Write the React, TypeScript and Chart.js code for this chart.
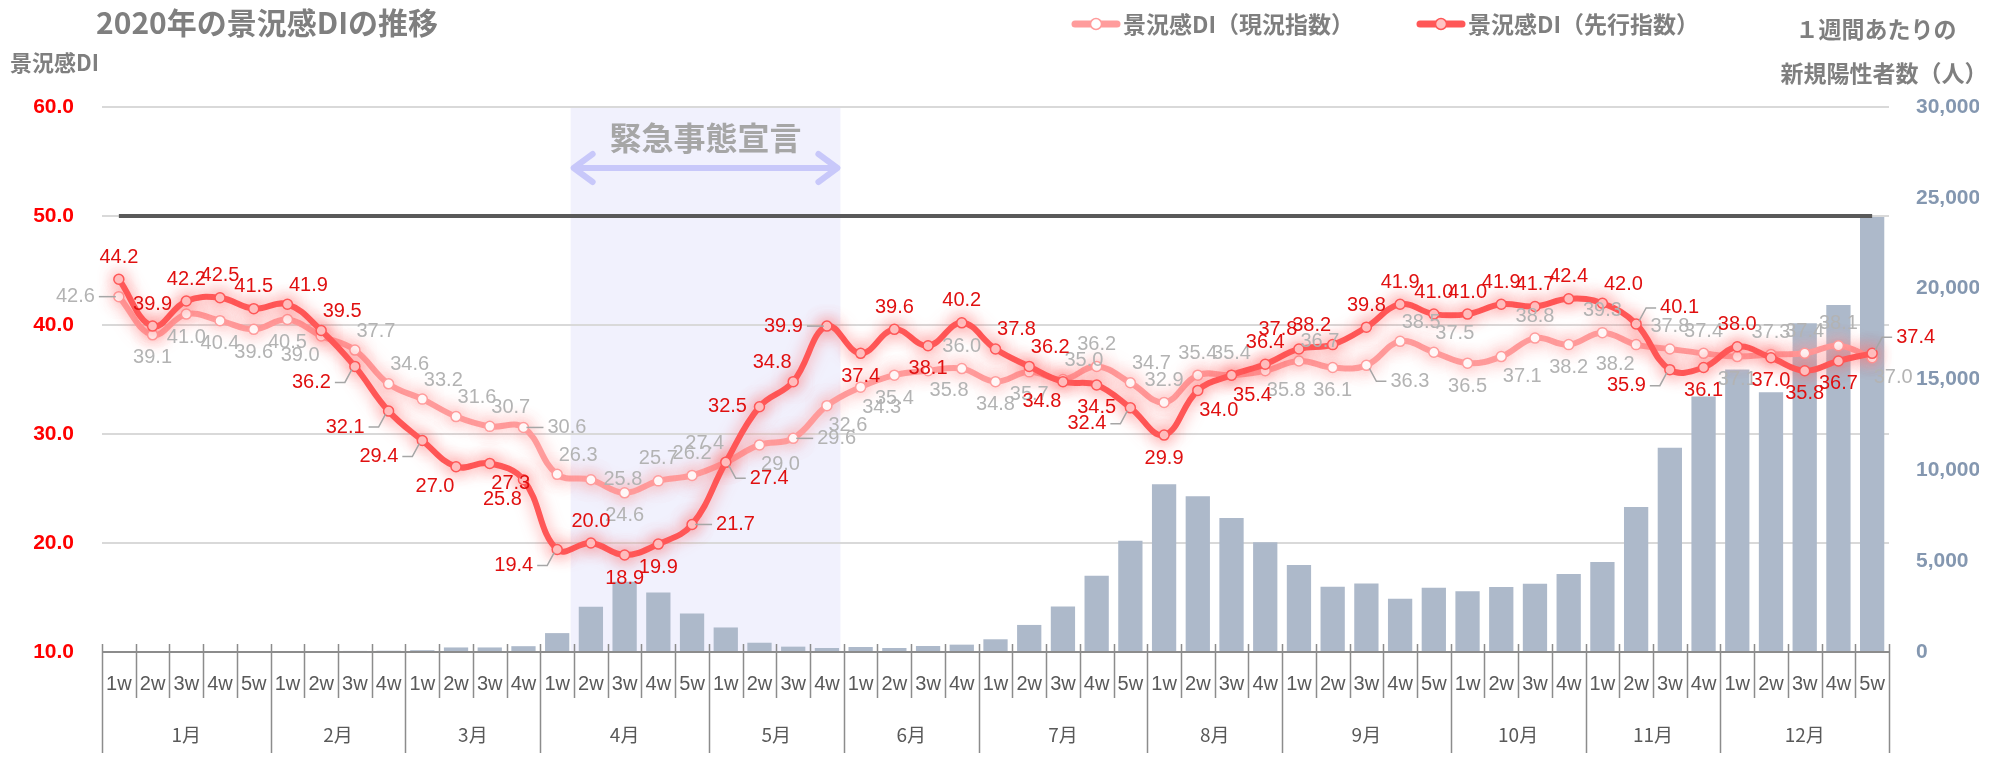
import React, { useEffect, useRef } from 'react';
import { Chart, registerables } from 'chart.js';

Chart.register(...registerables);

// ---- data -------------------------------------------------------------
const MONTHS = ['1月', '2月', '3月', '4月', '5月', '6月', '7月', '8月', '9月', '10月', '11月', '12月'];
const WEEKS_PER_MONTH = [5, 4, 4, 5, 4, 4, 5, 4, 5, 4, 4, 5];

// 景況感DI（現況指数）
const CURRENT_DI = [
  42.6, 39.1, 41.0, 40.4, 39.6,
  40.5, 39.0, 37.7, 34.6,
  33.2, 31.6, 30.7, 30.6,
  26.3, 25.8, 24.6, 25.7, 26.2,
  27.4, 29.0, 29.6, 32.6,
  34.3, 35.4, 35.8, 36.0,
  34.8, 35.7, 35.0, 36.2, 34.7,
  32.9, 35.4, 35.4, 35.8,
  36.7, 36.1, 36.3, 38.5, 37.5,
  36.5, 37.1, 38.8, 38.2,
  39.3, 38.2, 37.8, 37.4,
  37.1, 37.3, 37.4, 38.1, 37.0,
];

// 景況感DI（先行指数）
const OUTLOOK_DI = [
  44.2, 39.9, 42.2, 42.5, 41.5,
  41.9, 39.5, 36.2, 32.1,
  29.4, 27.0, 27.3, 25.8,
  19.4, 20.0, 18.9, 19.9, 21.7,
  27.4, 32.5, 34.8, 39.9,
  37.4, 39.6, 38.1, 40.2,
  37.8, 36.2, 34.8, 34.5, 32.4,
  29.9, 34.0, 35.4, 36.4,
  37.8, 38.2, 39.8, 41.9, 41.0,
  41.0, 41.9, 41.7, 42.4,
  42.0, 40.1, 35.9, 36.1,
  38.0, 37.0, 35.8, 36.7, 37.4,
];

// 1週間あたりの新規陽性者数（人）
const WEEKLY_CASES = [
  0, 0, 0, 10, 20,
  20, 40, 60, 70,
  100, 250, 250, 320,
  1040, 2490, 3870, 3270, 2120,
  1350, 510, 295, 220,
  275, 220, 330, 405,
  700, 1490, 2500, 4200, 6130,
  9240, 8580, 7380, 6040,
  4790, 3590, 3770, 2930, 3530,
  3340, 3580, 3760, 4300,
  4960, 7980, 11250, 14060,
  15550, 14300, 18100, 19100, 23950,
];

const DI_MIN = 10;
const DI_MAX = 60;
const DI_STEP = 10;
const CASES_MIN = 0;
const CASES_MAX = 30000;
const CASES_STEP = 5000;
const BASELINE_DI = 50;

// 緊急事態宣言 (4/7 – 5/25) on the week index axis
const EMERGENCY_START = 13.4;
const EMERGENCY_END = 21.4;
const EMERGENCY_LABEL = '緊急事態宣言';

const TITLE = '2020年の景況感DIの推移';
const LEFT_AXIS_TITLE = '景況感DI';
const RIGHT_AXIS_TITLE = ['１週間あたりの', '新規陽性者数（人）'];
const CURRENT_NAME = '景況感DI（現況指数）';
const OUTLOOK_NAME = '景況感DI（先行指数）';

// value-label placement per point (a/b above/below, l/r sides, L/R with leader line)
const OUTLOOK_LABEL_POS = [
  'a', 'a', 'a', 'a', 'a',
  'ar', 'ar', 'Ld', 'Ld',
  'Ld', 'bl', 'br', 'bl',
  'Ld', 'a', 'b', 'b', 'R',
  'Rd', 'l', 'al', 'L',
  'b', 'a', 'b', 'a',
  'ar', 'ar', 'bl', 'b', 'Ld',
  'b', 'br', 'br', 'a',
  'al', 'al', 'a', 'a', 'a',
  'a', 'a', 'a', 'a',
  'ar', 'Ru', 'Ld', 'b',
  'a', 'b', 'b', 'b', 'Ru',
];
const CURRENT_LABEL_POS = [
  'L', 'b', 'b', 'b', 'b',
  'b', 'bl', 'ar', 'ar',
  'ar', 'ar', 'ar', 'R',
  'ar', 'r', 'b', 'a', 'a',
  'al', 'br', 'R', 'br',
  'br', 'b', 'br', 'a',
  'b', 'b', 'ar', 'a', 'ar',
  'a', 'a', 'a', 'br',
  'ar', 'b', 'Rd', 'ar', 'ar',
  'b', 'br', 'a', 'b',
  'a', 'bl', 'a', 'a',
  'b', 'a', 'a', 'a', 'br',
];

// ---- styling ----------------------------------------------------------
const FONT_JP = '"Noto Sans CJK JP", "Noto Sans", sans-serif';
const FONT_NUM = '"Liberation Sans Narrow", "Liberation Sans", Arial, sans-serif';
const FONT_AXIS = '"Liberation Sans", Arial, sans-serif';
const TEXT_GRAY = '#7f7f7f';
const CURRENT_COLOR = '#ff9c9c';
const OUTLOOK_COLOR = '#ff5757';
const BAR_COLOR = '#adb9ca';

const WEEK_LABELS: string[] = [];
WEEKS_PER_MONTH.forEach((n, mi) => {
  for (let j = 1; j <= n; j++) WEEK_LABELS.push(`${MONTHS[mi]} ${j}w`);
});

const LABEL_OFFSETS: Record<string, [number, number]> = {
  a: [0, -22],
  b: [0, 23],
  al: [-21, -19],
  ar: [21, -19],
  bl: [-21, 20],
  br: [21, 20],
  l: [-32, 0],
  r: [32, 0],
};

function drawValueLabels(ctx: CanvasRenderingContext2D, points: any[], values: number[], pos: string[], color: string) {
  ctx.save();
  ctx.font = `20px ${FONT_NUM}`;
  ctx.textBaseline = 'middle';
  points.forEach((pt: any, i: number) => {
    const code = pos[i] || 'a';
    const text = values[i].toFixed(1);
    const { x, y } = pt;
    if (code[0] === 'L' || code[0] === 'R') {
      const dir = code[0] === 'L' ? -1 : 1;
      const dy = code[1] === 'd' ? 16 : code[1] === 'u' ? -16 : 0;
      ctx.strokeStyle = '#a6a6a6';
      ctx.lineWidth = 1.5;
      ctx.beginPath();
      ctx.moveTo(x + dir * 3, y + Math.sign(dy) * 3);
      ctx.lineTo(x + dir * 10, y + dy);
      ctx.lineTo(x + dir * 20, y + dy);
      ctx.stroke();
      ctx.fillStyle = color;
      ctx.textAlign = dir < 0 ? 'right' : 'left';
      ctx.fillText(text, x + dir * 24, y + dy);
    } else {
      const [dx, dy] = LABEL_OFFSETS[code];
      ctx.fillStyle = color;
      ctx.textAlign = 'center';
      ctx.fillText(text, x + dx, y + dy);
    }
  });
  ctx.restore();
}

function drawLegendItem(ctx: CanvasRenderingContext2D, x: number, y: number, line: string, fill: string, label: string) {
  ctx.save();
  ctx.strokeStyle = line;
  ctx.lineWidth = 7;
  ctx.lineCap = 'round';
  ctx.beginPath();
  ctx.moveTo(x + 3, y);
  ctx.lineTo(x + 45, y);
  ctx.stroke();
  ctx.beginPath();
  ctx.arc(x + 24, y, 5.5, 0, Math.PI * 2);
  ctx.fillStyle = fill;
  ctx.fill();
  ctx.lineWidth = 1.5;
  ctx.stroke();
  ctx.fillStyle = TEXT_GRAY;
  ctx.font = `bold 23px ${FONT_JP}`;
  ctx.textAlign = 'left';
  ctx.textBaseline = 'middle';
  ctx.fillText(label, x + 51, y);
  ctx.restore();
}

const decorPlugin = {
  id: 'diDecor',
  beforeDraw(chart: any) {
    const { ctx, chartArea: a, scales } = chart;
    const x0 = scales.x.getPixelForValue(EMERGENCY_START);
    const x1 = scales.x.getPixelForValue(EMERGENCY_END);
    ctx.save();
    ctx.fillStyle = '#f1f1fd';
    ctx.fillRect(x0, a.top, x1 - x0, a.bottom - a.top);
    ctx.restore();
  },
  beforeDatasetsDraw(chart: any) {
    const { ctx, chartArea: a, scales } = chart;
    const x0 = scales.x.getPixelForValue(EMERGENCY_START);
    const x1 = scales.x.getPixelForValue(EMERGENCY_END);
    ctx.save();
    ctx.fillStyle = '#a6a6a6';
    ctx.font = `bold 32px ${FONT_JP}`;
    ctx.textAlign = 'center';
    ctx.textBaseline = 'middle';
    ctx.fillText(EMERGENCY_LABEL, (x0 + x1) / 2, a.top + 31);
    const ay = a.top + 61;
    ctx.strokeStyle = '#c8c8fa';
    ctx.lineWidth = 6;
    ctx.lineCap = 'round';
    ctx.lineJoin = 'round';
    ctx.beginPath();
    ctx.moveTo(x0 + 3, ay);
    ctx.lineTo(x1 - 3, ay);
    ctx.moveTo(x0 + 22, ay - 14);
    ctx.lineTo(x0 + 3, ay);
    ctx.lineTo(x0 + 22, ay + 14);
    ctx.moveTo(x1 - 22, ay - 14);
    ctx.lineTo(x1 - 3, ay);
    ctx.lineTo(x1 - 22, ay + 14);
    ctx.stroke();
    ctx.restore();
  },
  beforeDatasetDraw(chart: any, args: any) {
    const ctx = chart.ctx;
    ctx.save();
    const ds = chart.data.datasets[args.index];
    if (ds.type === 'line') {
      ctx.shadowColor = ds.glowColor;
      ctx.shadowBlur = 16;
    }
  },
  afterDatasetDraw(chart: any, args: any) {
    const ctx = chart.ctx;
    ctx.restore();
    const ds = chart.data.datasets[args.index];
    if (ds.type === 'bar') {
      const { x, y } = chart.scales;
      const py = y.getPixelForValue(BASELINE_DI);
      ctx.save();
      ctx.strokeStyle = '#595959';
      ctx.lineWidth = 4;
      ctx.beginPath();
      ctx.moveTo(x.getPixelForValue(0), py);
      ctx.lineTo(x.getPixelForValue(WEEK_LABELS.length - 1), py);
      ctx.stroke();
      ctx.restore();
    }
  },
  afterDatasetsDraw(chart: any) {
    const ctx = chart.ctx;
    drawValueLabels(ctx, chart.getDatasetMeta(1).data, CURRENT_DI, CURRENT_LABEL_POS, '#b3b3b3');
    drawValueLabels(ctx, chart.getDatasetMeta(2).data, OUTLOOK_DI, OUTLOOK_LABEL_POS, '#e01010');
  },
  afterDraw(chart: any) {
    const { ctx, chartArea: a } = chart;
    const n = WEEK_LABELS.length;
    const w = (a.right - a.left) / n;
    const H = chart.height;

    // two-level category axis
    ctx.save();
    ctx.strokeStyle = '#8c8c8c';
    ctx.lineWidth = 2;
    ctx.beginPath();
    ctx.moveTo(a.left, a.bottom);
    ctx.lineTo(a.right, a.bottom);
    ctx.stroke();
    const monthEdges = new Set<number>([0]);
    let k = 0;
    ctx.fillStyle = '#595959';
    ctx.textAlign = 'center';
    ctx.textBaseline = 'middle';
    WEEKS_PER_MONTH.forEach((cnt, mi) => {
      ctx.font = `20px ${FONT_AXIS}`;
      for (let j = 0; j < cnt; j++) {
        ctx.fillText(`${j + 1}w`, a.left + (k + j + 0.5) * w, a.bottom + 32);
      }
      ctx.font = `19px ${FONT_JP}`;
      ctx.fillText(MONTHS[mi], a.left + (k + cnt / 2) * w, a.bottom + 83);
      k += cnt;
      monthEdges.add(k);
    });
    ctx.lineWidth = 1.5;
    ctx.strokeStyle = '#8c8c8c';
    ctx.beginPath();
    for (let b = 0; b <= n; b++) {
      const px = Math.round(a.left + b * w) + 0.5;
      ctx.moveTo(px, a.bottom - 8);
      ctx.lineTo(px, monthEdges.has(b) ? H - 4 : a.bottom + 46);
    }
    ctx.stroke();

    // titles
    ctx.fillStyle = TEXT_GRAY;
    ctx.textAlign = 'left';
    ctx.font = `bold 30px ${FONT_JP}`;
    ctx.fillText(TITLE, 96, 23);
    ctx.font = `bold 22px ${FONT_JP}`;
    ctx.fillText(LEFT_AXIS_TITLE, 10, 63);
    ctx.textAlign = 'center';
    ctx.font = `bold 23px ${FONT_JP}`;
    ctx.fillText(RIGHT_AXIS_TITLE[0], 1876, 29);
    ctx.fillText(RIGHT_AXIS_TITLE[1], 1884, 73);
    ctx.restore();

    drawLegendItem(ctx, 1072, 24, CURRENT_COLOR, '#ffffff', CURRENT_NAME);
    drawLegendItem(ctx, 1417, 24, OUTLOOK_COLOR, '#ffc4c4', OUTLOOK_NAME);
  },
};

export default function App() {
  const canvasRef = useRef<HTMLCanvasElement | null>(null);

  useEffect(() => {
    if (!canvasRef.current) return;
    const chart = new Chart(canvasRef.current, {
      type: 'bar',
      data: {
        labels: WEEK_LABELS,
        datasets: [
          {
            type: 'bar',
            label: '新規陽性者数',
            data: WEEKLY_CASES,
            yAxisID: 'y1',
            backgroundColor: BAR_COLOR,
            barPercentage: 0.72,
            categoryPercentage: 1.0,
            order: 3,
          } as any,
          {
            type: 'line',
            label: CURRENT_NAME,
            data: CURRENT_DI,
            yAxisID: 'y',
            borderColor: CURRENT_COLOR,
            borderWidth: 6,
            tension: 0.4,
            pointRadius: 5,
            pointBackgroundColor: '#ffffff',
            pointBorderColor: CURRENT_COLOR,
            pointBorderWidth: 1.5,
            glowColor: 'rgba(255, 150, 150, 0.8)',
            order: 2,
          } as any,
          {
            type: 'line',
            label: OUTLOOK_NAME,
            data: OUTLOOK_DI,
            yAxisID: 'y',
            borderColor: OUTLOOK_COLOR,
            borderWidth: 6,
            tension: 0.4,
            pointRadius: 5,
            pointBackgroundColor: '#ffc4c4',
            pointBorderColor: OUTLOOK_COLOR,
            pointBorderWidth: 1.5,
            glowColor: 'rgba(255, 100, 100, 0.75)',
            order: 1,
          } as any,
        ],
      },
      options: {
        responsive: false,
        animation: false,
        devicePixelRatio: 1,
        layout: { padding: { left: 22, right: 18, top: 107, bottom: 105 } },
        plugins: { legend: { display: false }, tooltip: { enabled: false } },
        scales: {
          x: { type: 'category', display: false, offset: true },
          y: {
            position: 'left',
            min: DI_MIN,
            max: DI_MAX,
            ticks: {
              stepSize: DI_STEP,
              padding: 28,
              color: '#ff0000',
              font: { family: FONT_AXIS, size: 21, weight: 'bold' },
              callback: (v: any) => Number(v).toFixed(1),
            },
            grid: { color: '#d9d9d9', lineWidth: 2, drawTicks: false },
            border: { display: false },
            afterFit: (s: any) => { s.width = 80; },
          },
          y1: {
            position: 'right',
            min: CASES_MIN,
            max: CASES_MAX,
            ticks: {
              stepSize: CASES_STEP,
              padding: 27,
              color: '#8497b0',
              font: { family: FONT_AXIS, size: 21, weight: 'bold' },
              callback: (v: any) => Number(v).toLocaleString('en-US'),
            },
            grid: { display: false, drawTicks: false },
            border: { display: false },
            afterFit: (s: any) => { s.width = 90; },
          },
        },
      } as any,
      plugins: [decorPlugin],
    });
    return () => chart.destroy();
  }, []);

  return (
    <div style={{ position: 'fixed', left: 0, top: 0, width: 1997, height: 757, background: '#ffffff' }}>
      <canvas ref={canvasRef} width={1997} height={757} style={{ display: 'block' }} />
    </div>
  );
}
